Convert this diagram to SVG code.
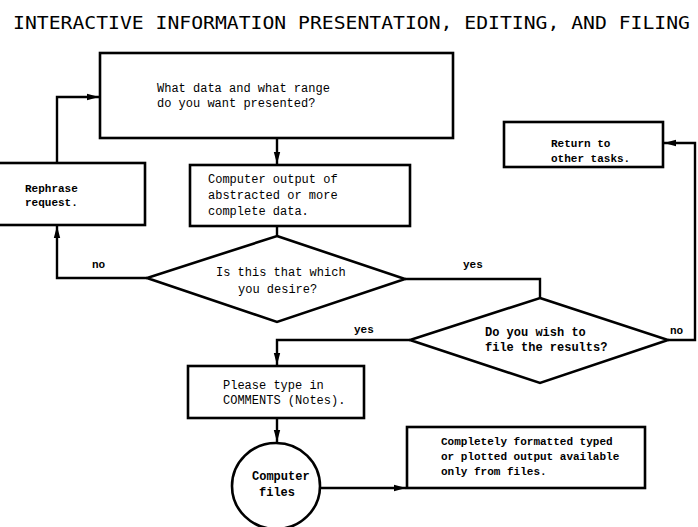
<svg xmlns="http://www.w3.org/2000/svg" width="698" height="527" viewBox="0 0 698 527">
<style>
.box{fill:#fff;stroke:#000;stroke-width:2.6}
.ln{fill:none;stroke:#000;stroke-width:2.4}
.t{font-family:"Liberation Mono","DejaVu Sans Mono",monospace;font-size:12px;fill:#000}
.b{font-weight:bold}
.s{font-size:11px}
.title{font-family:"DejaVu Sans Mono","Liberation Mono",monospace;font-size:18px;fill:#000}
</style>
<defs>
<marker id="ah" viewBox="0 0 12 8" refX="12" refY="4" markerWidth="12" markerHeight="8" markerUnits="userSpaceOnUse" orient="auto">
<path d="M0,0.8 L12,4 L0,7.2 Z" fill="#000"/>
</marker>
</defs>
<rect width="698" height="527" fill="#fff"/>
<text class="title" x="13" y="29" textLength="677" lengthAdjust="spacingAndGlyphs">INTERACTIVE INFORMATION PRESENTATION, EDITING, AND FILING</text>

<g id="connectors">
<path class="ln" d="M57,163 V97 H99" marker-end="url(#ah)"/>
<path class="ln" d="M277,138 V164" marker-end="url(#ah)"/>
<path class="ln" d="M277,226 V236"/>
<path class="ln" d="M147,278 H57 V226" marker-end="url(#ah)"/>
<path class="ln" d="M405,279 H540 V298"/>
<path class="ln" d="M668,340 H695 V143 H664" marker-end="url(#ah)"/>
<path class="ln" d="M410,340 H277 V365" marker-end="url(#ah)"/>
<path class="ln" d="M277,418 V442" marker-end="url(#ah)"/>
<path class="ln" d="M320,488 H406" marker-end="url(#ah)"/>
<text class="t b s" x="92" y="268">no</text>
<text class="t b s" x="463" y="268">yes</text>
<text class="t b s" x="354" y="333">yes</text>
<text class="t b s" x="670" y="334">no</text>
</g>

<g id="query">
<rect class="box" x="100" y="53" width="353" height="85"/>
<text class="t" x="157" y="92">What data and what range</text>
<text class="t" x="157" y="107">do you want presented?</text>
</g>

<g id="rephrase">
<rect class="box" x="-2" y="163" width="147" height="62"/>
<text class="t b s" x="25" y="192">Rephrase</text>
<text class="t b s" x="25" y="206">request.</text>
</g>

<g id="output">
<rect class="box" x="190" y="165" width="220" height="61"/>
<text class="t" x="208" y="183">Computer output of</text>
<text class="t" x="208" y="199">abstracted or more</text>
<text class="t" x="208" y="215">complete data.</text>
</g>

<g id="return">
<rect class="box" x="504" y="122" width="159" height="45"/>
<text class="t b s" x="551" y="147">Return to</text>
<text class="t b s" x="551" y="162">other tasks.</text>
</g>

<g id="desire">
<path class="box" d="M277,236 L405,279 L277,322 L147,278 Z"/>
<text class="t" x="216" y="276">Is this that which</text>
<text class="t" x="238" y="293">you desire?</text>
</g>

<g id="file">
<path class="box" d="M540,298 L668,340 L540,383 L410,340 Z"/>
<text class="t b" x="485" y="336">Do you wish to</text>
<text class="t b" x="485" y="351">file the results?</text>
</g>

<g id="comments">
<rect class="box" x="188" y="366" width="176" height="52"/>
<text class="t" x="223" y="389">Please type in</text>
<text class="t" x="223" y="404">COMMENTS (Notes).</text>
</g>

<g id="files">
<ellipse class="box" cx="276" cy="486" rx="44" ry="43"/>
<text class="t b" x="252" y="480">Computer</text>
<text class="t b" x="259" y="496">files</text>
</g>

<g id="final">
<rect class="box" x="407" y="427" width="238" height="61"/>
<text class="t b s" x="441" y="445">Completely formatted typed</text>
<text class="t b s" x="441" y="460">or plotted output available</text>
<text class="t b s" x="441" y="475">only from files.</text>
</g>
</svg>
